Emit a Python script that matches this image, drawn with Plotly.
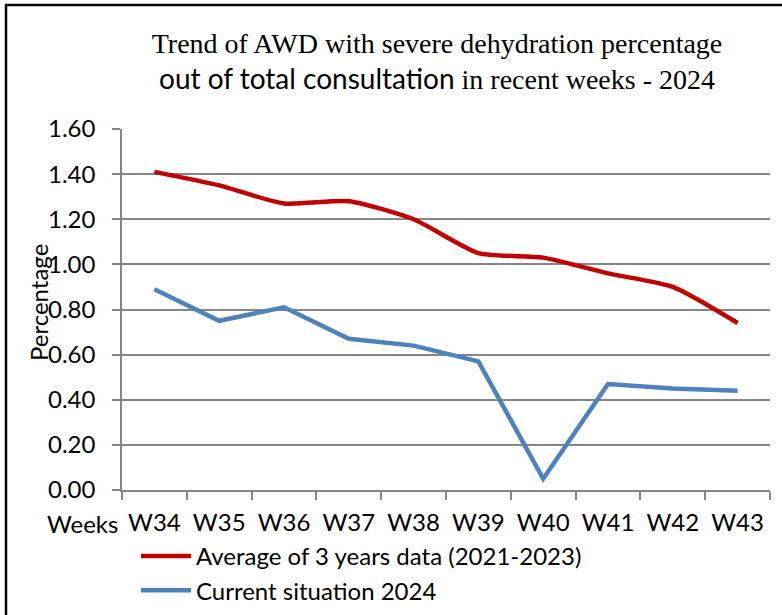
import plotly.graph_objects as go

weeks = ["W34", "W35", "W36", "W37", "W38", "W39", "W40", "W41", "W42", "W43"]
avg_3yr = [1.41, 1.35, 1.27, 1.28, 1.20, 1.05, 1.03, 0.96, 0.90, 0.74]
current_2024 = [0.89, 0.75, 0.81, 0.67, 0.64, 0.57, 0.05, 0.47, 0.45, 0.44]
y_ticks = [0.0, 0.2, 0.4, 0.6, 0.8, 1.0, 1.2, 1.4, 1.6]

W, H = 782, 615
L, R, T, B = 122, 12, 129, 125
pw, ph = W - L - R, H - T - B

def px(x):
    return (x - L) / pw

def py(y):
    return (H - B - y) / ph

sans = "Lato"
serif = "Liberation Serif"
grey = "#868686"

fig = go.Figure()
fig.add_trace(go.Scatter(x=weeks, y=avg_3yr, mode="lines", name="Average of 3 years data (2021-2023)",
                         line=dict(color="#C00000", width=4.5, shape="spline", smoothing=0.6)))
fig.add_trace(go.Scatter(x=weeks, y=current_2024, mode="lines", name="Current situation 2024",
                         line=dict(color="#4F81BD", width=4.5)))

title_text = ("Trend of AWD with severe dehydration percentage<br>"
              "<span style='font-family:Lato'>out of total consultation</span> in recent weeks - 2024")

fig.update_layout(
    width=W, height=H,
    margin=dict(l=L, r=R, t=T, b=B, pad=0, autoexpand=False),
    paper_bgcolor="white", plot_bgcolor="white",
    title=dict(text=title_text, x=px(437), xanchor="center", y=1 - 53 / H, yanchor="middle",
               xref="paper", yref="container",
               font=dict(family=serif, size=28, color="black")),
    showlegend=True,
    legend=dict(x=px(136), y=py(534), xanchor="left", yanchor="top", orientation="v",
                font=dict(family=sans, size=24, color="black"), bgcolor="rgba(0,0,0,0)",
                itemwidth=50, tracegroupgap=0),
    xaxis=dict(type="category", showgrid=False, showline=True, linecolor=grey, linewidth=1.5,
               ticks="outside", ticklen=8, tickcolor=grey, tickwidth=1.5, tickson="boundaries",
               tickfont=dict(family=sans, size=24, color="black"), ticklabelstandoff=10,
               range=[-0.5, 9.5], fixedrange=True),
    yaxis=dict(range=[0, 1.6], tickvals=y_ticks, tickformat=".2f", showgrid=True, gridcolor=grey,
               gridwidth=1.5, showline=True, linecolor=grey, linewidth=1.5, ticks="outside",
               ticklen=8, tickcolor=grey, tickwidth=1.5, zeroline=False,
               tickfont=dict(family=sans, size=24, color="black"), ticklabelstandoff=12,
               fixedrange=True),
    annotations=[
        dict(text="Weeks", x=px(120), y=py(523), xref="paper", yref="paper", xanchor="right",
             yanchor="middle", showarrow=False, font=dict(family=sans, size=24, color="black")),
        dict(text="Percentage", x=px(38), y=py(303), xref="paper", yref="paper", xanchor="center",
             yanchor="middle", textangle=-90, showarrow=False,
             font=dict(family=sans, size=24, color="black")),
    ],
    shapes=[
        dict(type="rect", xref="paper", yref="paper", x0=px(6), x1=px(800), y0=py(640), y1=py(5),
             line=dict(color="black", width=2.5), fillcolor="rgba(0,0,0,0)", layer="above"),
    ],
)

fig.write_html("out.html", config={"displayModeBar": False},
               post_script="document.body.style.margin='0';document.body.style.overflow='hidden';")
